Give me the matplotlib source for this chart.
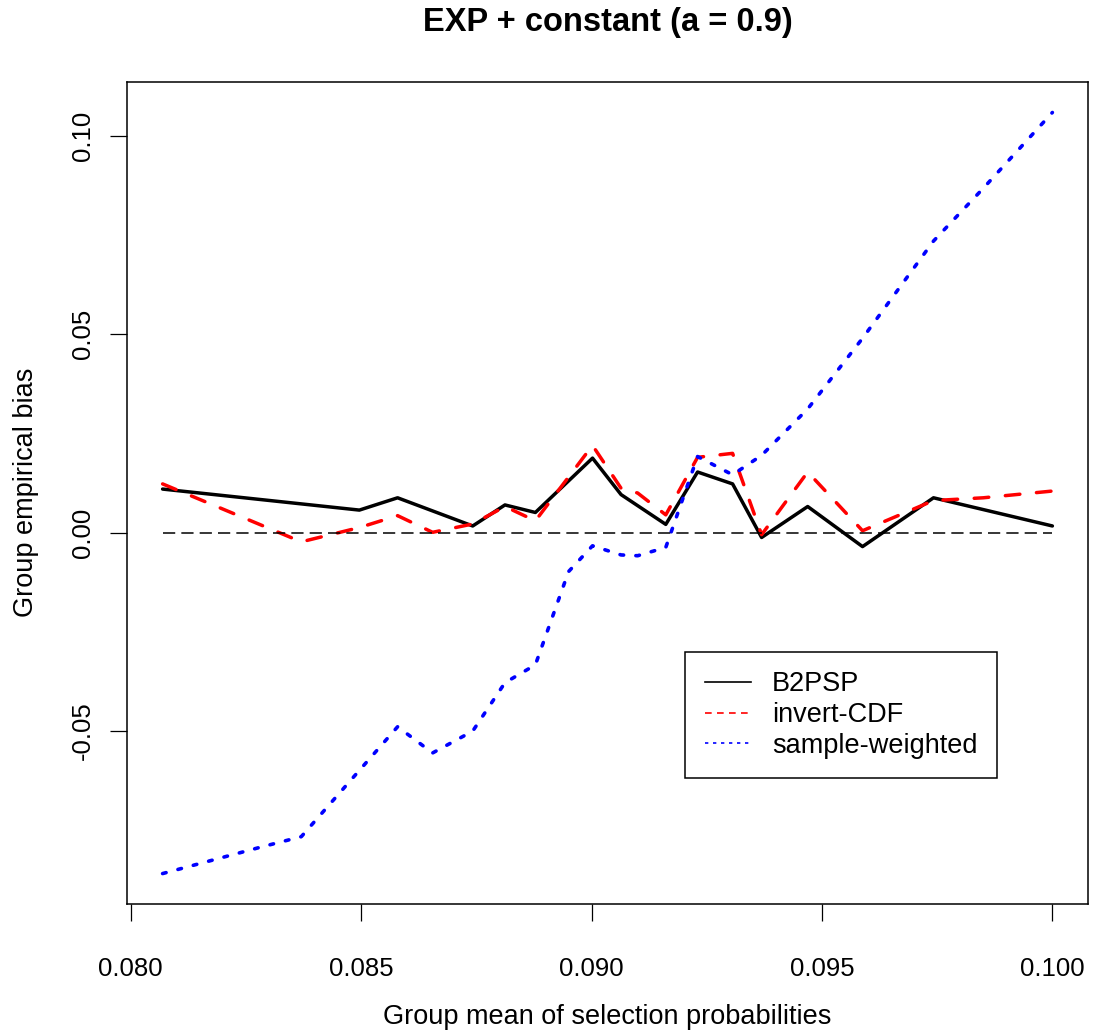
import matplotlib.pyplot as plt
from matplotlib.lines import Line2D

# ---------------- data ----------------
x_b2psp = [0.08069, 0.08496, 0.08579, 0.08742, 0.08812, 0.08878, 0.09002, 0.09064,
           0.09161, 0.09230, 0.09306, 0.09369, 0.09469, 0.09588, 0.09742, 0.10000]
bias_b2psp = [0.0110, 0.0057, 0.0088, 0.0017, 0.0070, 0.0051, 0.0188, 0.0096,
              0.0021, 0.0153, 0.0123, -0.0012, 0.0066, -0.0035, 0.0088, 0.0017]

x_invcdf = [0.08069, 0.0837, 0.08496, 0.08579, 0.08655, 0.08742, 0.08812, 0.08878,
            0.09002, 0.09064, 0.0910, 0.09161, 0.09230, 0.09306, 0.09369, 0.09469,
            0.09588, 0.09742, 0.0985, 0.10000]
bias_invcdf = [0.0123, -0.0023, 0.0013, 0.0043, 0.0001, 0.0022, 0.0066, 0.0030,
               0.0220, 0.0112, 0.0100, 0.0045, 0.0190, 0.0200, -0.0005, 0.0153,
               0.0005, 0.0081, 0.0088, 0.0105]

x_sw = [0.08069, 0.0828, 0.0837, 0.08579, 0.08655, 0.08742, 0.08812, 0.08878,
        0.0895, 0.09002, 0.09064, 0.0910, 0.09161, 0.09230, 0.09306, 0.09369,
        0.09469, 0.09588, 0.09742, 0.0985, 0.10000]
bias_sw = [-0.0859, -0.0793, -0.0766, -0.0489, -0.0555, -0.0500, -0.0378, -0.0333,
           -0.0098, -0.0033, -0.0056, -0.0058, -0.0037, 0.0192, 0.0146, 0.0195,
           0.0312, 0.0490, 0.0735, 0.0868, 0.1059]

labels = ["B2PSP", "invert-CDF", "sample-weighted"]
xticks = [0.080, 0.085, 0.090, 0.095, 0.100]
yticks = [-0.05, 0.00, 0.05, 0.10]

title = "EXP + constant (a = 0.9)"
xlab = "Group mean of selection probabilities"
ylab = "Group empirical bias"

# ---------------- figure ----------------
plt.rcParams['font.family'] = ['Liberation Sans', 'DejaVu Sans']
FS_TICK = 18.5
FS_LAB = 19.5

fig = plt.figure(figsize=(10.93, 10.36), dpi=100)
ax = fig.add_axes([0.1162, 0.1274, 0.8792, 0.7934])

ax.plot(x_b2psp, bias_b2psp, color='black', lw=2.5,
        solid_capstyle='round', solid_joinstyle='round')
ax.plot(x_invcdf, bias_invcdf, color='red', lw=2.5, dashes=(4.2, 4.8),
        dash_capstyle='round', dash_joinstyle='round')
ax.plot(x_sw, bias_sw, color='blue', lw=2.6, dashes=(1.0, 3.4),
        dash_capstyle='round', dash_joinstyle='round')

all_x = x_b2psp + x_invcdf + x_sw
all_y = bias_b2psp + bias_invcdf + bias_sw
ax.hlines(0, min(all_x), max(all_x), colors='black', lw=1.1, linestyles=(0, (8, 4)))

# R style 4% padding
xr = max(all_x) - min(all_x)
yr = max(all_y) - min(all_y)
ax.set_xlim(min(all_x) - 0.04 * xr, max(all_x) + 0.04 * xr)
ax.set_ylim(min(all_y) - 0.04 * yr, max(all_y) + 0.04 * yr)

ax.set_xticks(xticks)
ax.set_xticklabels(["%.3f" % v for v in xticks])
ax.set_yticks(yticks)
ax.set_yticklabels(["%.2f" % v for v in yticks], rotation=90, va='center')
ax.tick_params(direction='out', length=12, width=0.9, labelsize=FS_TICK, colors='black')
ax.tick_params(axis='x', pad=26)
ax.tick_params(axis='y', pad=11)
for s in ax.spines.values():
    s.set_linewidth(1.1)

fig.text(607.5 / 1093, 1 - 23 / 1036, title, ha='center', va='center',
         fontsize=23.5, fontweight='bold')
fig.text(607.5 / 1093, 1 - 1017 / 1036, xlab, ha='center', va='center', fontsize=FS_LAB)
fig.text(26 / 1093, 1 - 492 / 1036, ylab, ha='center', va='center', fontsize=FS_LAB,
         rotation=90)

# legend with thinner handle lines, like R's legend()
handles = [
    Line2D([], [], color='black', lw=1.2),
    Line2D([], [], color='red', lw=1.2, dashes=(4, 3.2)),
    Line2D([], [], color='blue', lw=1.2, dashes=(2, 2.8)),
]
leg = fig.legend(handles, labels, loc='upper left',
                 bbox_to_anchor=(685 / 1093, 1 - 651.7 / 1036),
                 bbox_transform=fig.transFigure, borderaxespad=0,
                 fontsize=FS_LAB, handlelength=1.7, handletextpad=0.8,
                 labelspacing=0.18, borderpad=0.72, fancybox=False,
                 framealpha=1, edgecolor='black')
leg.get_frame().set_linewidth(1.1)

fig.savefig("out.png", dpi=100)
